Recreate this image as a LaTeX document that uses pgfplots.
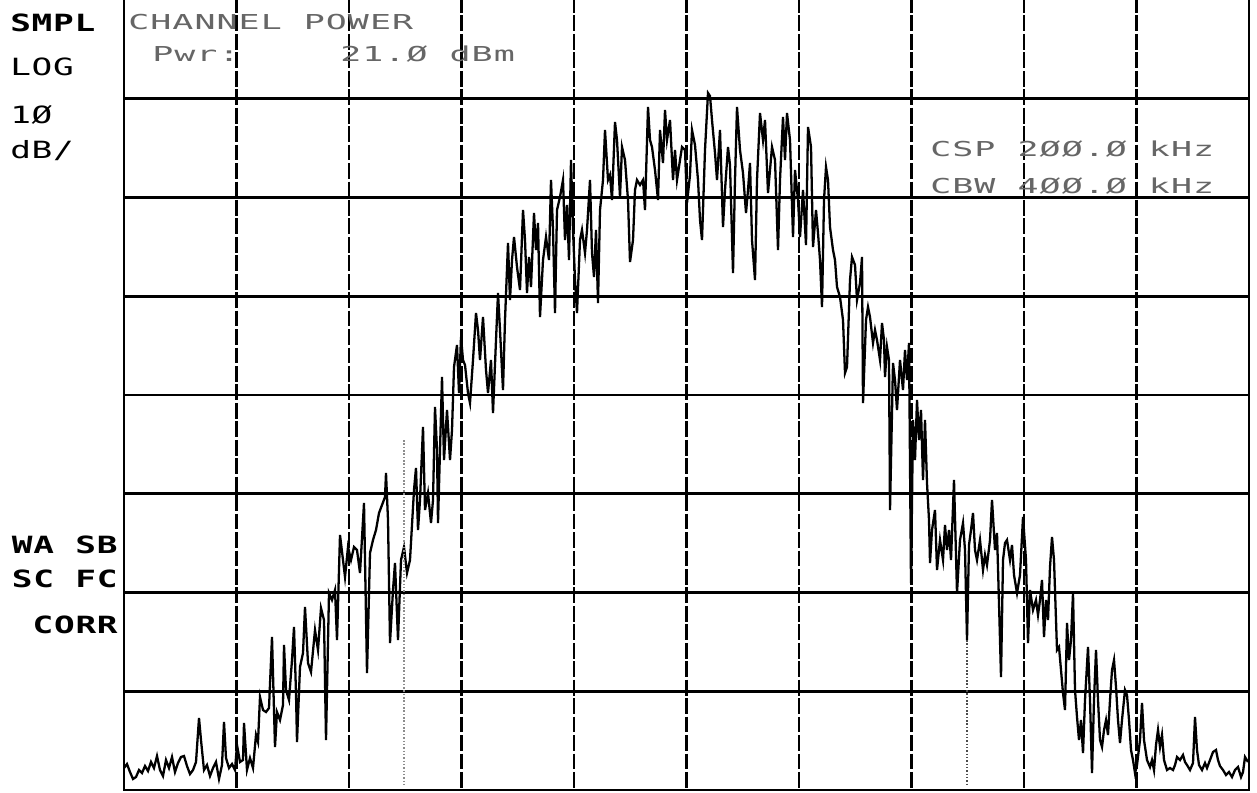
\documentclass[border=0pt]{standalone}
\usepackage{fontspec}
\usepackage{pgfplots}
\pgfplotsset{compat=1.18}
\newfontfamily\hpfont[FakeStretch=1.7, LetterSpace=5]{DejaVu Sans Mono}
\newfontfamily\hpbold[FakeStretch=1.45, LetterSpace=3]{DejaVu Sans Mono}
\begin{document}
\begin{tikzpicture}
\useasboundingbox (0,0) rectangle (25.14cm,15.84cm);
\begin{axis}[
  scale only axis,
  width=22.5cm, height=15.86cm,
  at={(2.48cm,0.04cm)}, anchor=south west,
  xmin=124, xmax=1249,
  ymin=-3, ymax=790,
  y dir=reverse,
  clip=false,
  axis line style={black, line width=1.5pt},
  xtick={236.5,349,461.5,574,686.5,799,911.5,1024,1136.5},
  ytick={98.75,197.5,296.25,395,493.75,592.5,691.25},
  xticklabels={}, yticklabels={},
  major tick length=0pt,
  grid=major,
  x grid style={black, line width=1.5pt, dash pattern=on 9pt off 1.5pt},
  y grid style={black, line width=1.5pt},
]
\addplot[black, line width=1.3pt] coordinates {
(124,768) (127,764) (130,772) (133,779) (136,777) (139,770) (142,773) (145,766) (148,771) (151,762)
(154,768) (157,756) (160,770) (163,776) (166,760) (169,768) (172,757) (175,772) (178,763) (181,757)
(184,756) (187,766) (190,774) (193,770) (196,762) (199,718) (201,740) (204,770) (207,765) (210,776)
(213,768) (216,762) (219,779) (222,765) (224,722) (226,758) (229,768) (232,764) (235,770) (237,745)
(240,762) (243,760) (244,723) (247,770) (250,758) (253,768) (256,735) (258,742) (260,697) (263,710)
(266,712) (269,708) (272,637) (275,747) (277,712) (280,720) (283,705) (284,645) (286,690) (289,700)
(292,660) (294,627) (296,693) (297,742) (300,667) (303,653) (305,607) (308,663) (311,672) (315,630)
(318,650) (321,608) (324,620) (326,740) (329,593) (332,600) (335,590) (337,640) (340,535) (343,560)
(345,577) (348,547) (351,560) (354,547) (357,550) (360,573) (364,503) (367,673) (370,553) (373,540)
(376,530) (379,513) (382,505) (385,497) (386,473) (388,520) (390,643) (393,590) (395,563) (398,640)
(401,560) (404,547) (407,573) (410,560) (414,490) (416,468) (418,530) (420,500) (423,427) (425,510)
(428,493) (431,523) (433,500) (435,407) (437,450) (438,523) (442,377) (444,460) (447,410) (450,460)
(452,430) (454,367) (457,345) (459,393) (461,337) (463,360) (465,365) (468,393) (470,403) (473,360)
(476,313) (478,330) (480,360) (483,317) (486,370) (488,393) (491,360) (493,413) (496,340) (498,293)
(500,330) (503,390) (505,320) (508,243) (510,300) (512,260) (514,237) (517,267) (520,290) (523,210)
(525,240) (527,293) (529,257) (531,287) (534,213) (536,250) (538,223) (540,317) (543,260) (546,237)
(549,260) (551,180) (553,230) (555,313) (557,210) (560,197) (563,180) (565,240) (567,205) (569,260)
(571,160) (573,230) (575,280) (577,313) (580,240) (582,230) (585,253) (587,230) (590,180) (592,253)
(594,277) (596,230) (598,303) (600,210) (603,180) (605,130) (608,180) (610,175) (612,200) (615,122)
(617,140) (620,197) (622,147) (625,160) (628,200) (630,262) (633,240) (635,190) (637,180) (640,185)
(643,180) (645,210) (648,107) (650,140) (652,147) (655,170) (658,200) (660,130) (663,163) (665,110)
(667,140) (670,120) (673,180) (675,150) (677,180) (680,160) (682,147) (685,150) (687,203) (690,175)
(692,130) (695,145) (698,180) (700,220) (702,240) (705,150) (708,93) (710,96) (712,120) (715,153)
(717,180) (720,130) (723,227) (725,190) (728,147) (730,165) (733,273) (735,180) (737,107) (740,150)
(743,173) (746,213) (748,190) (750,163) (752,240) (755,280) (757,180) (760,113) (763,140) (765,120)
(768,193) (770,170) (772,147) (775,160) (778,250) (780,180) (783,117) (785,160) (787,113) (790,140)
(793,237) (795,170) (798,200) (800,237) (803,190) (806,245) (808,127) (811,147) (813,247) (816,210)
(818,233) (820,260) (822,307) (824,200) (826,167) (828,180) (830,227) (833,250) (835,260) (837,287)
(840,297) (843,320) (845,373) (847,367) (850,280) (852,257) (855,265) (857,300) (860,283) (862,257)
(863,403) (866,320) (868,307) (870,317) (873,343) (875,330) (877,340) (880,360) (882,323) (884,340)
(885,377) (887,347) (889,360) (890,510) (893,363) (895,380) (897,410) (900,360) (903,390) (905,350)
(907,380) (909,343) (911,583) (913,420) (915,460) (917,400) (919,440) (921,410) (923,480) (925,420)
(927,483) (929,520) (930,563) (932,530) (935,510) (937,570) (940,540) (943,560) (945,525) (947,550)
(949,530) (951,560) (954,480) (957,593) (960,540) (963,523) (965,550) (967,640) (969,545) (971,530)
(973,513) (975,550) (977,560) (980,540) (983,570) (985,555) (987,565) (990,540) (992,500) (995,550)
(997,533) (999,603) (1001,677) (1003,560) (1005,543) (1007,540) (1010,560) (1012,545) (1014,575) (1017,593)
(1020,575) (1023,517) (1026,560) (1028,643) (1030,590) (1033,610) (1036,600) (1038,615) (1040,600) (1042,580)
(1044,637) (1046,600) (1048,620) (1050,567) (1052,537) (1054,560) (1057,650) (1059,647) (1061,670) (1063,693)
(1065,710) (1067,623) (1069,660) (1071,640) (1073,593) (1075,690) (1077,717) (1079,740) (1081,720) (1083,753)
(1085,700) (1088,647) (1090,700) (1092,773) (1094,700) (1096,650) (1098,700) (1100,740) (1102,747) (1104,730)
(1106,720) (1108,735) (1110,700) (1112,670) (1114,660) (1116,687) (1118,720) (1120,743) (1122,720) (1125,690)
(1127,695) (1129,720) (1131,750) (1133,760) (1135,773) (1137,765) (1140,740) (1142,703) (1144,740) (1147,760)
(1150,767) (1152,760) (1154,770) (1156,745) (1158,730) (1160,747) (1162,735) (1164,760) (1167,770) (1170,768)
(1173,770) (1175,765) (1177,757) (1180,760) (1183,755) (1185,762) (1187,765) (1190,770) (1193,763) (1195,717)
(1197,750) (1199,765) (1202,770) (1205,763) (1207,768) (1210,760) (1213,752) (1216,750) (1218,760) (1220,766)
(1223,770) (1226,775) (1229,772) (1232,777) (1235,770) (1238,767) (1241,777) (1243,772) (1245,757) (1248,762)
};
\addplot[black!45, densely dotted, line width=0.9pt] coordinates {(404,440) (404,786)};
\addplot[black!70, densely dotted, line width=0.9pt] coordinates {(967,640) (967,785)};
% left-hand annotations
\node[anchor=base west, inner sep=0pt] at (axis cs:10,32) {\hpbold\bfseries\fontsize{13.5}{14}\selectfont SMPL};
\node[anchor=base west, inner sep=0pt] at (axis cs:10,76) {\hpbold\fontsize{13.5}{14}\selectfont LOG};
\node[anchor=base west, inner sep=0pt] at (axis cs:10,124) {\hpbold\fontsize{13.5}{14}\selectfont 1Ø};
\node[anchor=base west, inner sep=0pt] at (axis cs:10,158) {\hpbold\fontsize{13.5}{14}\selectfont dB/};
\node[anchor=base east, inner sep=0pt] at (axis cs:118,553) {\hpbold\bfseries\fontsize{13.5}{14}\selectfont WA SB};
\node[anchor=base east, inner sep=0pt] at (axis cs:118,587) {\hpbold\bfseries\fontsize{13.5}{14}\selectfont SC FC};
\node[anchor=base east, inner sep=0pt] at (axis cs:118,633) {\hpbold\bfseries\fontsize{13.5}{14}\selectfont CORR};
% in-graticule annotations
\node[anchor=base west, inner sep=0pt, text=black!60] at (axis cs:128,30) {\hpfont\fontsize{11.7}{12}\selectfont CHANNEL POWER};
\node[anchor=base west, inner sep=0pt, text=black!60] at (axis cs:152,62) {\hpfont\fontsize{11.7}{12}\selectfont Pwr:};
\node[anchor=base west, inner sep=0pt, text=black!60] at (axis cs:340,62) {\hpfont\fontsize{11.7}{12}\selectfont 21.Ø dBm};
\node[anchor=base west, inner sep=0pt, text=black!60] at (axis cs:930,156) {\hpfont\fontsize{11.7}{12}\selectfont CSP 2ØØ.Ø kHz};
\node[anchor=base west, inner sep=0pt, text=black!60] at (axis cs:930,193) {\hpfont\fontsize{11.7}{12}\selectfont CBW 4ØØ.Ø kHz};
\end{axis}
\end{tikzpicture}
\end{document}
